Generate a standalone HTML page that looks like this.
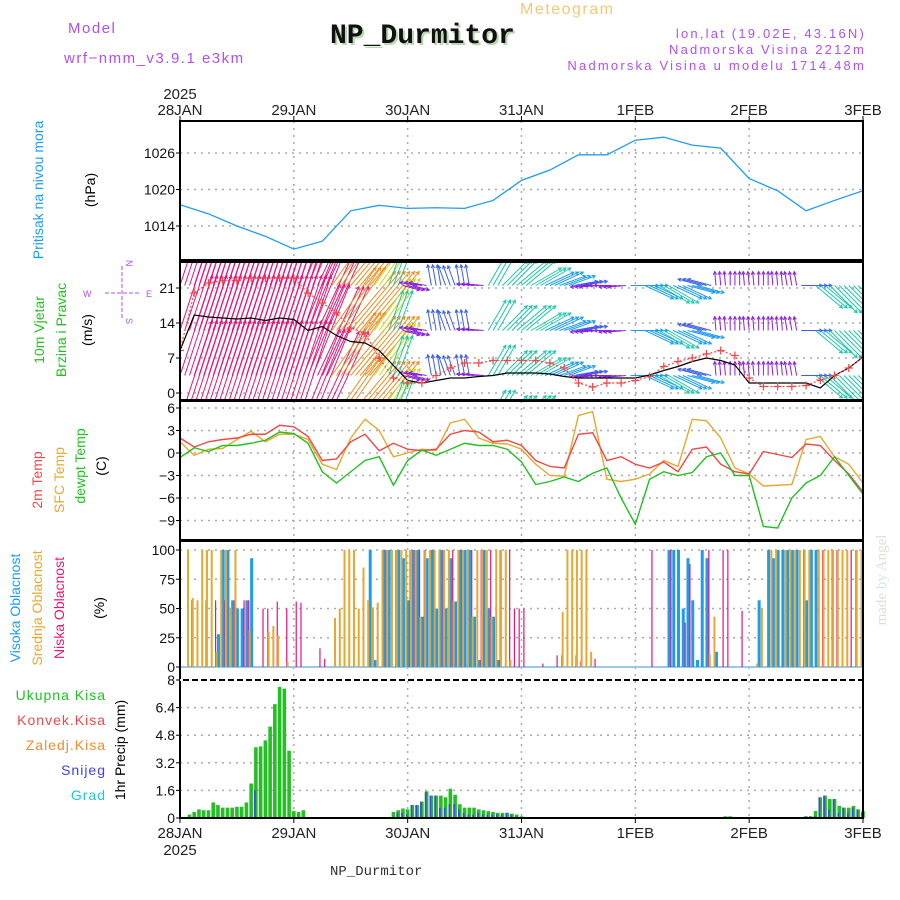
<!DOCTYPE html>
<html><head><meta charset="utf-8">
<style>
html,body{margin:0;padding:0;background:#fff;}
svg{display:block;font-family:"Liberation Sans",sans-serif;}
</style></head>
<body>
<svg id="chart" width="900" height="900" viewBox="0 0 900 900" xmlns="http://www.w3.org/2000/svg">
<defs>
<clipPath id="cw"><rect x="180" y="262" width="683" height="138"/></clipPath>
<clipPath id="cp"><rect x="180" y="121" width="683" height="139"/></clipPath>
</defs>
<g>
<text x="68" y="33" font-size="15" fill="#b050f0" letter-spacing="1.5">Model</text>
<text x="64" y="63" font-size="15" fill="#b050f0" letter-spacing="1.5">wrf−nmm_v3.9.1 e3km</text>
<text x="332" y="45" font-size="28" font-weight="bold" font-family="Liberation Mono, monospace" fill="#b8d8b0">NP_Durmitor</text>
<text x="330" y="43" font-size="28" font-weight="bold" font-family="Liberation Mono, monospace" fill="#111">NP_Durmitor</text>
<text x="520" y="14" font-size="16" fill="#f4c878" letter-spacing="1.5">Meteogram</text>
<text x="866" y="38" font-size="13" fill="#b050f0" text-anchor="end" letter-spacing="2.2">lon,lat (19.02E, 43.16N)</text>
<text x="866" y="54" font-size="13" fill="#b050f0" text-anchor="end" letter-spacing="2.2">Nadmorska Visina 2212m</text>
<text x="866" y="70" font-size="13" fill="#b050f0" text-anchor="end" letter-spacing="2.2">Nadmorska Visina u modelu 1714.48m</text>
<text x="330" y="875" font-size="14" font-family="Liberation Mono, monospace" fill="#333">NP_Durmitor</text>
<text transform="translate(886,580) rotate(-90)" font-size="15" fill="#d8e4d8" text-anchor="middle" font-family="Liberation Serif, serif">made by Angel</text>
</g>
<g font-size="14">
<text transform="translate(43,190) rotate(-90)" fill="#1e9cf0" text-anchor="middle">Pritisak na nivou mora</text>
<text transform="translate(95,190) rotate(-90)" fill="#000" text-anchor="middle">(hPa)</text>
<text transform="translate(44,330) rotate(-90)" fill="#22c022" text-anchor="middle">10m Vjetar</text>
<text transform="translate(66,330) rotate(-90)" fill="#22c022" text-anchor="middle">Brzina i Pravac</text>
<text transform="translate(92,330) rotate(-90)" fill="#000" text-anchor="middle">(m/s)</text>
<g fill="#b050f0" font-size="9" stroke="#b050f0">
<line x1="105" y1="293" x2="140" y2="293" stroke-dasharray="4,2"/><line x1="122" y1="266" x2="122" y2="320" stroke-dasharray="4,2"/>
<text x="83" y="297" stroke="none">W</text><text x="146" y="297" stroke="none">E</text>
<text transform="translate(126,260) rotate(90)" stroke="none">N</text><text transform="translate(126,318) rotate(90)" stroke="none">S</text>
</g>
<text transform="translate(42,480) rotate(-90)" fill="#f04848" text-anchor="middle">2m Temp</text>
<text transform="translate(64,480) rotate(-90)" fill="#e8a830" text-anchor="middle">SFC Temp</text>
<text transform="translate(85,466) rotate(-90)" fill="#22c022" text-anchor="middle">dewpt Temp</text>
<text transform="translate(106,466) rotate(-90)" fill="#000" text-anchor="middle">(C)</text>
<text transform="translate(20,608) rotate(-90)" fill="#1e9cf0" text-anchor="middle">Visoka Oblacnost</text>
<text transform="translate(42,608) rotate(-90)" fill="#e8a830" text-anchor="middle">Srednja Oblacnost</text>
<text transform="translate(64,608) rotate(-90)" fill="#e8147a" text-anchor="middle">Niska Oblacnost</text>
<text transform="translate(104,608) rotate(-90)" fill="#000" text-anchor="middle">(%)</text>
<text transform="translate(125,750) rotate(-90)" fill="#000" text-anchor="middle">1hr Precip (mm)</text>
<text x="106" y="700" fill="#22c022" text-anchor="end" letter-spacing="1">Ukupna Kisa</text>
<text x="106" y="725" fill="#f04848" text-anchor="end" letter-spacing="1">Konvek.Kisa</text>
<text x="106" y="750" fill="#f08c30" text-anchor="end" letter-spacing="1">Zaledj.Kisa</text>
<text x="106" y="775" fill="#4040f0" text-anchor="end" letter-spacing="1">Snijeg</text>
<text x="106" y="800" fill="#20c8d0" text-anchor="end" letter-spacing="1">Grad</text>
</g>
<g id="plot"></g>
</svg>
<script>
const dayLabels=["28JAN","29JAN","30JAN","31JAN","1FEB","2FEB","3FEB"];
const pressTicks=[1014,1020,1026];
const windTicks=[0,7,14,21];
const tempTicks=[-9,-6,-3,0,3,6];
const cloudTicks=[0,25,50,75,100];
const precipTicks=[0,1.6,3.2,4.8,6.4,8];
// pressure every 6 h
const pressure=[1017.5,1016,1014,1012.3,1010.2,1011.5,1016.5,1017.4,1016.9,1017,1016.9,1018.2,1021.5,1023.2,1025.7,1025.7,1028.1,1028.6,1027.3,1026.8,1021.8,1019.8,1016.5,1018.2,1019.8];
// wind every 3 h
const windSpd=[8.5,15.6,15.2,15,14.8,15,14.5,15,14.7,12.5,13.3,11.5,10.3,10,8.5,5.5,2.5,2,2.5,3,3,3.3,3.5,4,4,4,3.8,3.3,3,3,3,3,3,3.6,4.5,5.3,6.3,7,6.5,5.6,2,2,2,2,2,1,3.5,5,7.2];
const windGust=[8.5,20,22,22.5,22.5,23,23,23,23,20,18,16,13,12,7,3,2,2,3.5,5,6,6,6.5,6.5,6.5,6.5,6,5,2,1.2,2,2,2.5,3.3,5.3,6.3,7,7.8,8.5,7.5,3,1.3,1.3,1.3,1.5,2.6,3.5,5,7.2];
const windAng=[72,72,72,72,72,72,72,72,72,68,65,55,50,50,55,70,-15,170,100,110,100,175,60,45,40,30,25,20,10,185,180,185,0,-25,-30,-25,-15,165,95,90,95,90,95,100,0,-40,-45,-45,-45];
const arrowLen=[15,15,15,15,15,15,15,15,15,14,14,11,11,11,9,6,2.5,2.5,3,3,3,2.5,5,5,5.5,5,4.5,4,3.5,2.5,2.5,2.5,4,4.5,5,4.5,4,3.5,2,2,2,2,2,2,3,5,5.5,6,6];
// temperature every 3 h
const t2m=[2,0.8,1.5,1.8,2,2.5,2.5,3.7,3.5,2.2,-1,-0.8,1.5,2.5,0.3,1.3,0.5,0.3,0.5,2.5,3,2.8,1.5,1.7,1,-1,-1.8,-2,2.5,2.7,-1,-0.5,-1.5,-2,-1.2,-2.5,0.5,0.8,-1.5,-2.5,-2.8,0.2,-0.2,-0.6,1.2,1,-1,-2.8,-5.2];
const tsfc=[1.5,-0.3,0.5,0.6,1.8,2.9,1.5,2.5,2.5,1.8,-1.5,-2.2,2,4.5,3,-0.5,0,0.5,0.3,4,4.5,2,1.3,1.2,0.5,-1.5,-3,-3.1,5,5.5,-3.5,-3.8,-3.5,-2.8,-1,-1.8,4.5,4.3,2,-2,-2.8,-4.4,-4.3,-4.2,1.8,2.2,-0.5,-1.5,-4];
const tdew=[-0.6,0.7,0.2,1,1,1.3,1.7,2.8,2.6,1.3,-2.5,-4,-2.5,-1,-0.5,-4.3,-1,0.4,-0.3,0.5,1.3,1,1,0.5,-1.2,-4.2,-3.8,-3.2,-3.8,-2.7,-2,-6,-9.5,-3.5,-2.5,-3,-2.6,-0.5,0,-3,-3,-9.8,-10,-6,-4,-3,-0.5,-3,-5.5];
// hourly cloud cover %
const cloudHigh=[0,0,0,0,0,0,0,0,28,100,100,57, 50,50,57,93,0,0,0,0,0,0,0,0, 0,0,0,0,0,0,0,0,0,0,0,0, 0,0,0,0,100,6,0,100,100,0,100,93, 57,100,100,43,93,100,50,100,50,93,56,100, 100,100,43,6,100,50,43,6,0,0,0,0, 0,0,0,0,0,0,0,0,0,0,0,0, 0,0,0,0,0,0,0,0,0,0,0,0, 0,0,0,0,0,0,0,100,100,100,50,93, 57,6,100,93,0,13,0,0,0,0,0,0, 0,0,57,0,100,93,100,100,100,100,100,0, 57,100,100,0,0,0,0,0,0,0,0,0, 0];
const cloudMid=[0,0,100,59,57,100,100,100,13,100,100,50, 100,0,0,31,0,0,0,30,35,27,0,4, 0,0,0,0,0,0,0,0,0,42,50,100, 100,100,50,85,57,51,55,100,100,100,100,100, 100,100,100,43,100,100,100,100,100,100,56,100, 100,100,43,100,100,100,43,100,100,100,6,0, 0,0,0,0,0,0,0,0,0,47,100,100, 100,100,100,13,0,0,0,0,0,0,0,0, 0,0,0,0,0,0,0,0,0,0,0,0, 0,0,0,0,11,43,0,0,0,0,0,0, 0,0,3,50,0,100,100,0,100,100,100,100, 100,100,0,100,100,100,100,100,100,100,0,100, 100];
const cloudLow=[0,0,57,0,0,57,0,57,0,57,0,57, 0,57,57,0,0,50,50,0,56,0,50,0, 56,55,0,0,0,16,7,0,0,0,0,0, 0,0,0,0,0,0,0,100,0,100,0,0, 100,100,100,100,0,100,0,100,0,100,0,100, 0,100,0,100,0,100,0,100,0,100,50,50, 50,0,0,0,3,0,0,10,10,0,0,10, 5,0,0,7,0,0,0,0,0,0,0,0, 0,0,0,100,0,0,0,100,0,0,38,88, 0,0,0,100,0,0,100,100,0,0,48,0, 0,0,0,0,0,0,0,0,0,0,0,100, 0,0,0,100,0,100,100,0,0,100,100,0, 0];
// hourly precipitation mm
const rainTotal=[0,0,0.2,0.35,0.5,0.45,0.45,0.9,0.75,0.6,0.6,0.6, 0.65,0.65,0.9,2,4.1,4.15,4.5,5.3,6.6,7.6,7.5,3.9, 0.4,0.35,0.45,0,0,0,0,0,0,0,0,0, 0,0,0,0,0,0,0,0,0,0.35,0.45,0.55, 0.5,0.75,0.75,0.95,1.55,1.3,1.3,1.3,1.2,1.7,1.35,0.8, 0.6,0.6,0.6,0.5,0.45,0.4,0.35,0.3,0.3,0.3,0.25,0.2, 0.1,0,0,0,0,0,0,0,0,0,0,0, 0,0,0,0,0,0,0,0,0,0,0,0, 0,0,0,0,0,0,0,0,0,0,0,0, 0,0,0,0.05,0.03,0,0,0.1,0.1,0,0,0, 0,0,0,0,0,0,0,0,0,0,0,0.05, 0.1,0.1,0.4,1.2,1.3,1.1,1.1,0.7,0.6,0.6,0.7,0.5, 0.4];
const snow=[0,0,0,0,0,0,0,0,0,0,0,0, 0,0,0,0.05,1.6,0,0,0,0,0,0,0, 0,0,0,0,0,0,0,0,0,0,0,0, 0,0,0,0,0,0,0,0,0,0,0.3,0.3, 0.2,0.75,0.75,0.95,1.5,1.3,1.3,0.6,0.6,0.8,0.8,0.5, 0.3,0.2,0.2,0.3,0.2,0.2,0.2,0.2,0.2,0.3,0.2,0.1, 0,0,0,0,0,0,0,0,0,0,0,0, 0,0,0,0,0,0,0,0,0,0,0,0, 0,0,0,0,0,0,0,0,0,0,0,0, 0,0,0,0.05,0,0,0,0,0,0,0,0, 0,0,0,0,0,0,0,0,0,0,0,0, 0.1,0.1,0.1,1.2,1.3,0.5,1.1,0.3,0.6,0.3,0.6,0.5, 0.3];
const convRain=[0,0,0,0,0,0,0,0,0,0,0,0, 0,0,0,0,0,0,0,0,0.05,0.1,0,0];

const NS="http://www.w3.org/2000/svg";
const plot=document.getElementById('plot');
const L=180,R=863;
const X=h=>L+h*(R-L)/144;
const yP=p=>153+(1026-p)*36.5/6;
const yW=v=>393-v*5;
const yT=t=>453-t*7.5;
const yC=c=>667-c*1.17;
const yR=r=>818-r*17.25;
function mk(tag,attrs,parent){const e=document.createElementNS(NS,tag);for(const k in attrs)e.setAttribute(k,attrs[k]);(parent||plot).appendChild(e);return e;}
const panels=[[121,260,'pressure-panel'],[262,400,'wind-panel'],[401,540,'temp-panel'],[541,680,'cloud-panel'],[680,818,'precip-panel']];
const grid=mk('g',{stroke:'#aaa','stroke-width':1.5,'stroke-dasharray':'2,5'});


for(let d=1;d<6;d++){mk('line',{x1:X(d*24),x2:X(d*24),y1:121,y2:818},grid);}
function hgrid(vals,f){vals.forEach(v=>mk('line',{x1:L,x2:R,y1:f(v),y2:f(v)},grid));}
hgrid(pressTicks,yP);hgrid(windTicks,yW);hgrid(tempTicks,yT);hgrid(cloudTicks,yC);hgrid(precipTicks.slice(1,5),yR);
function yticks(vals,f,name,fmt){const g=mk('g',{'font-size':14,fill:'#111','text-anchor':'end'});


vals.forEach(v=>{const t=mk('text',{x:L-5,y:f(v)+5},g);t.textContent=fmt?fmt(v):String(v);mk('line',{x1:L-4,x2:L,y1:f(v),y2:f(v),stroke:'#000'},g);});}
yticks(pressTicks,yP,'pressure-y-ticks');
yticks(windTicks,yW,'wind-y-ticks');
yticks(tempTicks,yT,'temp-y-ticks',v=>v<0?'−'+(-v):String(v));
yticks(cloudTicks,yC,'cloud-y-ticks');
yticks(precipTicks,yR,'precip-y-ticks');
const xt=mk('g',{'font-size':15,fill:'#222','text-anchor':'middle'});


dayLabels.forEach((d,i)=>{const x=X(i*24);
let t=mk('text',{x:x,y:115},xt);t.textContent=d;
t=mk('text',{x:x,y:838},xt);t.textContent=d;
mk('line',{x1:x,x2:x,y1:116,y2:121,stroke:'#000'},xt);mk('line',{x1:x,x2:x,y1:818,y2:823,stroke:'#000'},xt);});
let ty=mk('text',{x:X(0),y:99},xt);ty.textContent='2025';
ty=mk('text',{x:X(0),y:855},xt);ty.textContent='2025';
const pp=mk('polyline',{points:pressure.map((p,i)=>X(i*6)+','+yP(p)).join(' '),fill:'none',stroke:'#1e9cf0','stroke-width':1.3,'clip-path':'url(#cp)'});


function wcol(s){return s<=2.5?'#8a20e0':s<=3.5?'#3a5cf0':s<=4.5?'#1a9cf0':s<=6.5?'#18c8a8':s<=8?'#33cc33':s<=10?'#c8dc20':s<=12?'#f08c20':s<=13.5?'#f04858':'#e8147a';}
const wg=mk('g',{'clip-path':'url(#cw)','stroke-width':1});


const levels=[-5.5,3.5,12.5,21.5];
arrowLen.forEach((s,k)=>{
  const a=windAng[k]*Math.PI/180,len=s*7,c=wcol(s);
  for(let j=0;j<3;j++){const h=k*3+j-1; if(h<0||h>144)continue;
    levels.forEach(lv=>{const x0=X(h),y0=yW(lv),x1=x0+len*Math.cos(a),y1=y0-len*Math.sin(a);
      const ln=mk('line',{x1:x0,y1:y0,x2:x1,y2:y1,stroke:c},wg);
      
      
      const b1=a+Math.PI-0.5,b2=a+Math.PI+0.5;
      mk('polyline',{points:(x1+3.5*Math.cos(b1))+','+(y1-3.5*Math.sin(b1))+' '+x1+','+y1+' '+(x1+3.5*Math.cos(b2))+','+(y1-3.5*Math.sin(b2)),fill:'none',stroke:c},wg);
    });}
});
const ws=mk('polyline',{points:windSpd.map((s,k)=>X(k*3)+','+yW(s)).join(' '),fill:'none',stroke:'#000','stroke-width':1.2,'clip-path':'url(#cw)'});


const gg=mk('g',{stroke:'#f04848','stroke-width':1.2,'clip-path':'url(#cw)'});


mk('polyline',{points:windGust.map((s,k)=>X(k*3)+','+yW(s)).join(' '),fill:'none','stroke-dasharray':'2,2'},gg);
windGust.forEach((s,k)=>{const x=X(k*3),y=yW(s);mk('path',{d:`M${x-4},${y}H${x+4}M${x},${y-4}V${y+4}`},gg);});
[[tsfc,'#e8a830','sfc-temp-line'],[t2m,'#f04848','t2m-line'],[tdew,'#22c022','dewpoint-line']].forEach(([arr,c,n])=>{
 const pl=mk('polyline',{points:arr.map((t,k)=>X(k*3)+','+yT(t)).join(' '),fill:'none',stroke:c,'stroke-width':1.4});
 
 });
const cg=mk('g',{});


mk('line',{x1:L,x2:R,y1:yC(0),y2:yC(0),stroke:'#9cc8e8','stroke-width':2},cg);
for(let h=0;h<=144;h++){const x=X(h);
 if(cloudHigh[h]>0){const r=mk('rect',{x:x-1,y:yC(cloudHigh[h]),width:3,height:yC(0)-yC(cloudHigh[h]),fill:'#1e9cf0'},cg);}
 if(cloudMid[h]>0){const r=mk('rect',{x:x-2.5,y:yC(cloudMid[h]),width:2,height:yC(0)-yC(cloudMid[h]),fill:'#e8a830'},cg);}
 if(cloudLow[h]>0){const r=mk('rect',{x:x+1.8,y:yC(cloudLow[h]),width:1.2,height:yC(0)-yC(cloudLow[h]),fill:'#e8147a'},cg);}
}
const rg=mk('g',{});


for(let h=0;h<=144;h++){const x=X(h);
 if(rainTotal[h]>0){const r=mk('rect',{x:x-1.8,y:yR(rainTotal[h]),width:3.6,height:818-yR(rainTotal[h]),fill:'#22c022'},rg);}
 if(snow[h]>0){const r=mk('rect',{x:x-1.8,y:yR(snow[h]),width:1.6,height:818-yR(snow[h]),fill:'#4040f0'},rg);}
 if(convRain[h]>0){const r=mk('rect',{x:x-1,y:yR(convRain[h]),width:2,height:818-yR(convRain[h]),fill:'#f04848'},rg);}
}
panels.forEach(([t,b,n])=>{const r=mk('rect',{x:L,y:t,width:R-L,height:b-t,fill:'none',stroke:'#000','stroke-width':2});
 
 });
mk('line',{x1:L,x2:R,y1:680,y2:680,stroke:'#fff','stroke-width':2,'stroke-dasharray':'3,6'});
</script>
</body></html>
